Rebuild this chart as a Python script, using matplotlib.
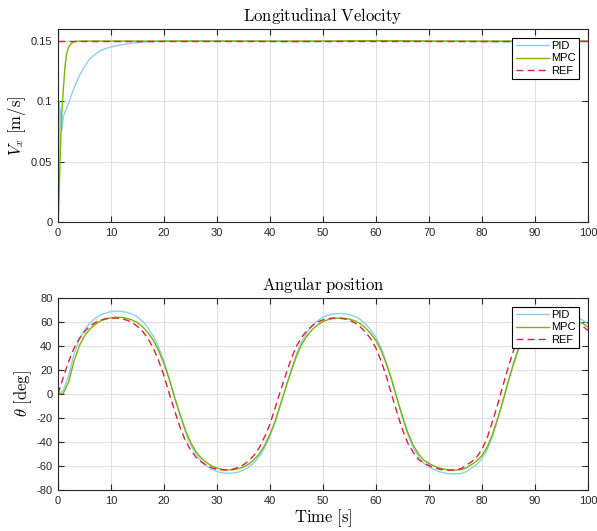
import matplotlib
matplotlib.use("Agg")
import matplotlib.pyplot as plt
from matplotlib.ticker import MultipleLocator

plt.rcParams['font.family'] = ['Liberation Sans', 'DejaVu Sans']
plt.rcParams['mathtext.fontset'] = 'cm'
plt.rcParams['axes.unicode_minus'] = False

# ---- longitudinal velocity (m/s) ----
t_vel = [0, 0.1, 0.25, 0.45, 0.6, 0.75, 1.0, 1.3, 1.6, 2.0, 2.5, 3, 4, 5, 6, 8,
         10, 12, 14, 17, 20, 25, 30, 35, 40, 45, 50, 55, 60, 65, 70, 75, 80,
         85, 90, 95, 100]
vel_pid = [0, 0.04, 0.1, 0.09, 0.082, 0.076, 0.087, 0.091, 0.094, 0.099, 0.105,
           0.111, 0.121, 0.129, 0.1354, 0.1423, 0.1452, 0.147, 0.1483, 0.1493,
           0.1498, 0.15, 0.15, 0.1499, 0.1497, 0.1495, 0.1497, 0.15, 0.1502,
           0.1501, 0.1498, 0.1497, 0.1495, 0.1494, 0.1497, 0.15, 0.15]
vel_mpc = [0, 0.008, 0.03, 0.06, 0.08, 0.093, 0.11, 0.128, 0.139, 0.145, 0.148,
           0.1495, 0.15, 0.15, 0.15, 0.15, 0.15, 0.15, 0.15, 0.15, 0.15, 0.15,
           0.15, 0.15, 0.15, 0.15, 0.15, 0.1502, 0.1503, 0.1502, 0.15, 0.15,
           0.15, 0.15, 0.15, 0.15, 0.15]
vel_ref = [0.15] * len(t_vel)

# ---- angular position (deg), sampled every second ----
t_ang = list(range(0, 101))
ang_ref = [0, 14, 27, 38, 46, 52, 56.5, 59.5, 61.5, 62.8,
           63.3, 63.3, 62.7, 61.5, 59.5, 56.3, 52, 46, 38, 27.5,
           15, 0, -14, -27.5, -38.5, -46.5, -52.5, -56.5, -59.5, -61.5,
           -62.8, -63.3, -63.2, -62.6, -61.2, -59, -55.5, -51, -44.5, -35.5,
           -25, -11, 3, 16.5, 29.5, 40, 47.5, 53, 57, 60,
           61.8, 62.9, 63.3, 63.2, 62.6, 61.4, 59.3, 56, 51.5, 46,
           38, 27, 14, -1.5, -16, -30, -41, -48.5, -54.5, -57.5,
           -59.7, -61.5, -62.7, -63.3, -63.4, -63.3, -62.3, -59.5, -56.5, -52.5,
           -46, -36, -22.5, -8, 8, 23, 37, 45.5, 51.5, 55.5,
           58.5, 60.7, 62.2, 63, 63.3, 63, 62.2, 61, 59.5, 56.5,
           53]
ang_mpc = [0, 0.5, 10, 27, 40, 48.5, 54, 58, 60.8, 62.5,
           63.5, 64, 63.8, 63, 61.6, 59.4, 55.9, 51, 44.6, 36,
           25, 12, -2.8, -16.7, -29.7, -40.1, -47.7, -53.3, -57.1, -59.9,
           -61.8, -62.9, -63.3, -63.1, -62.3, -60.8, -58.3, -54.6, -49.7, -42.7,
           -33.4, -22.2, -8.2, 5.7, 19.1, 31.6, 41.5, 48.6, 53.8, 57.6,
           60.4, 62, 63, 63.3, 63.1, 62.4, 61, 58.6, 55.1, 50.4,
           44.4, 35.8, 24.4, 10.9, -4.4, -18.8, -32.2, -42.5, -49.7, -55.1,
           -57.9, -60.1, -61.7, -62.8, -63.3, -63.4, -63.1, -61.7, -58.9, -55.7,
           -51.2, -44, -33.3, -19.6, -4.8, 11, 25.8, 38.7, 46.7, 52.3,
           56.1, 58.9, 61, 62.4, 63.1, 63.2, 62.8, 62, 60.7, 58.9,
           55.8]
ang_pid = [0, 3, 15, 33, 45.5, 53.5, 59, 63, 65.8, 67.5,
           68.6, 69.1, 68.9, 68, 66.5, 64.2, 60.4, 55, 48, 38.8,
           27, 13, -2.9, -17.5, -31, -41.9, -49.8, -55.7, -59.7, -62.6,
           -64.6, -65.7, -66.1, -65.9, -65.1, -63.5, -60.9, -57.1, -51.9, -44.6,
           -34.9, -23.2, -8.6, 6, 20.2, 33.5, 44, 51.5, 57, 61.1,
           64, 65.7, 66.8, 67.1, 66.9, 66.1, 64.7, 62.1, 58.4, 53.4,
           47.1, 37.9, 25.9, 11.6, -4.6, -19.7, -33.8, -44.6, -52.2, -57.9,
           -60.8, -63.1, -64.8, -65.9, -66.5, -66.6, -66.3, -64.8, -61.8, -58.5,
           -53.8, -46.2, -35, -20.6, -5, 11.5, 27, 40.4, 48.8, 54.7,
           58.6, 61.6, 63.7, 65.2, 65.9, 66, 65.6, 64.8, 63.4, 61.5,
           58.3]

c_pid = '#8CCFEE'
c_mpc = '#7DB500'
c_ref = '#DC1E4A'
c_axis = '#262626'


def style_axes(ax):
    ax.grid(True, color='#E0E0E0', linewidth=0.8)
    ax.set_axisbelow(True)
    ax.tick_params(direction='in', top=True, right=True, length=4, width=0.8,
                   labelsize=8, colors=c_axis, pad=4)
    for s in ax.spines.values():
        s.set_color(c_axis)
        s.set_linewidth(0.8)
    ax.set_xlim(0, 100)
    ax.xaxis.set_major_locator(MultipleLocator(10))


fig = plt.figure(figsize=(5.97, 5.31), dpi=100)
ax1 = fig.add_axes([0.0972, 0.5819, 0.8878, 0.3635])
ax2 = fig.add_axes([0.0972, 0.0772, 0.8878, 0.3616])

# top: velocity
ax1.plot(t_vel, vel_pid, color=c_pid, lw=1.0, label='PID')
ax1.plot(t_vel, vel_mpc, color=c_mpc, lw=1.0, label='MPC')
ax1.plot(t_vel, vel_ref, color=c_ref, lw=1.0, ls=(0, (5, 3)), label='REF')
style_axes(ax1)
ax1.set_ylim(0, 0.16)
ax1.set_yticks([0, 0.05, 0.1, 0.15])
ax1.set_yticklabels(['0', '0.05', '0.1', '0.15'])
ax1.set_title(r'$\mathrm{Longitudinal\ Velocity}$', fontsize=12, pad=6)
ax1.set_ylabel(r'$V_x\ \mathrm{[m/s]}$', fontsize=12, labelpad=2)

# bottom: angular position
ax2.plot(t_ang, ang_pid, color=c_pid, lw=1.0, label='PID')
ax2.plot(t_ang, ang_mpc, color=c_mpc, lw=1.0, label='MPC')
ax2.plot(t_ang, ang_ref, color=c_ref, lw=1.0, ls=(0, (5, 3)), label='REF')
style_axes(ax2)
ax2.set_ylim(-80, 80)
ax2.yaxis.set_major_locator(MultipleLocator(20))
ax2.set_title(r'$\mathrm{Angular\ position}$', fontsize=12, pad=6)
ax2.set_ylabel(r'$\theta\ \mathrm{[deg]}$', fontsize=12, labelpad=2)
ax2.set_xlabel(r'$\mathrm{Time\ [s]}$', fontsize=12, labelpad=1)

for ax in (ax1, ax2):
    leg = ax.legend(loc='upper right', fontsize=8, handlelength=3.0,
                    handletextpad=0.2, borderpad=0.3, labelspacing=0.2,
                    fancybox=False, framealpha=1, borderaxespad=0.8)
    leg.get_frame().set_edgecolor('black')
    leg.get_frame().set_linewidth(0.8)

fig.savefig('out.png', dpi=100, facecolor='white')
